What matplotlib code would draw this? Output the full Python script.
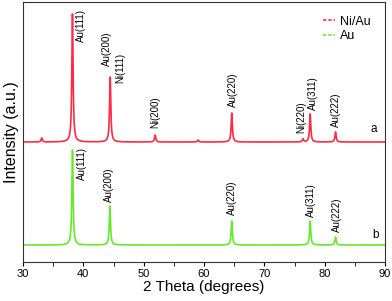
import numpy as np
import matplotlib
matplotlib.use('Agg')
import matplotlib.pyplot as plt

plt.rcParams['font.family'] = ['Liberation Sans', 'DejaVu Sans']

# peak positions (2theta) and heights (a.u.)
niau_pos = [33.1, 38.2, 44.45, 51.9, 59.0, 64.6, 76.4, 77.6, 81.8]
niau_height = [4, 128, 65, 7, 2, 29, 3, 28, 10]
au_pos = [38.2, 44.4, 64.6, 77.6, 81.8]
au_height = [95, 39, 24, 24, 8]

niau_offset = 120
au_offset = 17

# peak labels: (text, x, bottom of text)
niau_labels = [('Au(111)', 39.6, 220), ('Au(200)', 43.9, 196), ('Ni(111)', 46.2, 179),
               ('Ni(200)', 51.9, 134), ('Au(220)', 64.8, 155), ('Ni(220)', 76.1, 129),
               ('Au(311)', 78.1, 152), ('Au(222)', 81.9, 135)]
au_labels = [('Au(111)', 39.7, 82), ('Au(200)', 44.3, 60), ('Au(220)', 64.7, 47),
             ('Au(311)', 77.8, 45), ('Au(222)', 82.1, 30)]

red = '#ff2a44'
green = '#66e82a'


def pattern(x, pos, height, w=0.12):
    y = np.zeros_like(x)
    for p, h in zip(pos, height):
        y += h / (1 + ((x - p) / w) ** 2)
    return y


x = np.linspace(30, 90, 6000)
fig = plt.figure(figsize=(3.92, 3.01), dpi=100)
ax = fig.add_axes([23 / 392, 39 / 301, 362 / 392, 260 / 301])

ax.plot(x, pattern(x, niau_pos, niau_height) + niau_offset, color=red, lw=1.2, label='Ni/Au')
ax.plot(x, pattern(x, au_pos, au_height) + au_offset, color=green, lw=1.2, label='Au')

for t, lx, ly in niau_labels + au_labels:
    ax.text(lx, ly, t, rotation=90, ha='center', va='bottom', fontsize=7)
ax.text(88.1, 133, 'a', ha='center', va='center', fontsize=8.5)
ax.text(88.5, 27, 'b', ha='center', va='center', fontsize=8.5)

ax.set_xlim(30, 90)
ax.set_ylim(0, 260)
ax.set_xticks(range(30, 91, 10))
ax.set_xticks(range(35, 90, 10), minor=True)
ax.tick_params(axis='x', which='both', direction='out', length=3, labelsize=8, pad=2, top=False)
ax.set_yticks([])
ax.set_xlabel('2 Theta (degrees)', fontsize=11, labelpad=1)
ax.set_ylabel('Intensity (a.u.)', fontsize=11.5, labelpad=3)
for s in ax.spines.values():
    s.set_color('#333333')
    s.set_linewidth(0.8)

leg = ax.legend(loc='upper right', bbox_to_anchor=(0.99, 0.99), frameon=False, fontsize=9,
                handlelength=0.9, handletextpad=0.4, labelspacing=0.2)
for h in leg.get_lines():
    h.set_linestyle((0, (2, 1.2)))

fig.savefig('out.png', dpi=100)
